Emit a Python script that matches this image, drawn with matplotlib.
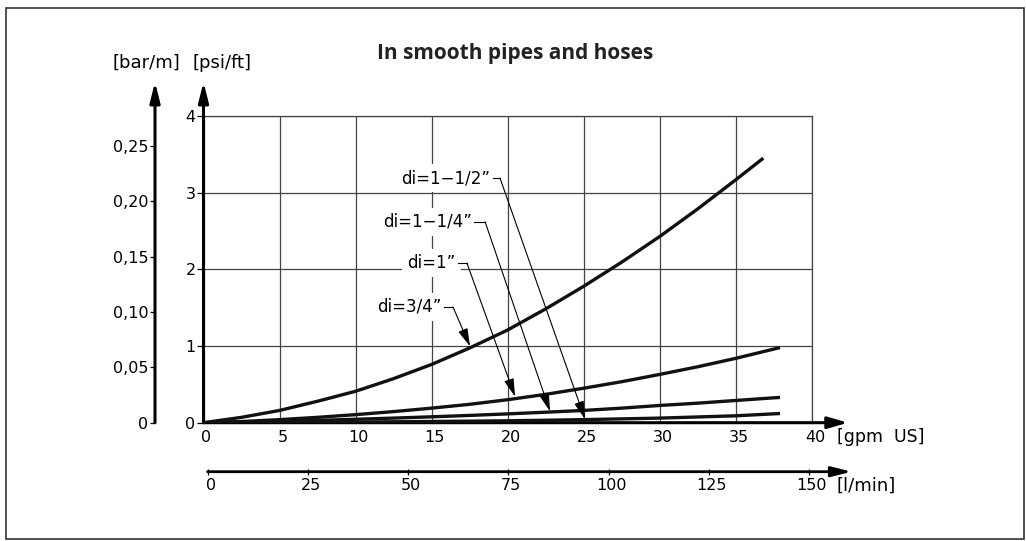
import matplotlib
matplotlib.use('Agg')
import matplotlib.pyplot as plt
from matplotlib.patches import Rectangle
from matplotlib.transforms import ScaledTranslation

# pressure drop per length vs flow
gpm = [0, 2.5, 5, 7.5, 10, 12.5, 15, 17.5, 20, 22.5, 25, 27.5, 30, 32.5, 35]
psi_34 = [0, 0.07, 0.16, 0.28, 0.41, 0.575, 0.76, 0.975, 1.21, 1.485, 1.78, 2.095, 2.43, 2.79, 3.17]
psi_1 = [0, 0.015, 0.04, 0.07, 0.105, 0.145, 0.19, 0.24, 0.30, 0.37, 0.45, 0.535, 0.63, 0.73, 0.84]
psi_114 = [0, 0.008, 0.018, 0.03, 0.045, 0.06, 0.077, 0.095, 0.115, 0.137, 0.16, 0.19, 0.225, 0.255, 0.29]
psi_112 = [0, 0.002, 0.004, 0.006, 0.009, 0.012, 0.016, 0.02, 0.025, 0.032, 0.04, 0.05, 0.06, 0.075, 0.09]
# last points of each curve
end_34 = (36.8, 3.45)
end_1 = (37.9, 0.98)
end_114 = (37.9, 0.33)
end_112 = (37.9, 0.12)

gpm_ticks = [0, 5, 10, 15, 20, 25, 30, 35, 40]
psi_ticks = [0, 1, 2, 3, 4]
lmin_ticks = [0, 25, 50, 75, 100, 125, 150]
bar_ticks = [0, 0.05, 0.10, 0.15, 0.20, 0.25]
bar_labels = ['0', '0,05', '0,10', '0,15', '0,20', '0,25']
curve_names = ['di=3/4”', 'di=1”', 'di=1−1/4”', 'di=1−1/2”']

W, H = 1026, 541
plt.rcParams['font.family'] = ['DejaVu Sans']

fig = plt.figure(figsize=(W / 100, H / 100), dpi=100)
fig.add_artist(Rectangle((6 / W, 1 - 539 / H), 1018 / W, 531 / H, transform=fig.transFigure,
                         fill=False, lw=1.2, ec='#333'))


def axis_arrow(a, end, lw=2.2, hl=1.2, hw=0.35):
    a.annotate('', xy=end, xytext=(0, 0), xycoords='axes fraction', textcoords='axes fraction',
               arrowprops=dict(arrowstyle='-|>,head_length=%g,head_width=%g' % (hl, hw),
                               lw=lw, color='k', shrinkA=0, shrinkB=0, mutation_scale=10),
               annotation_clip=False)


shift = ScaledTranslation(3 / 100, 0, fig.dpi_scale_trans)

# main chart
ax = fig.add_axes([203.5 / W, 1 - 422.7 / H, 608.5 / W, 306.7 / H])
ax.set_xlim(0, 40)
ax.set_ylim(0, 4)
ax.set_xticks(gpm_ticks)
ax.set_yticks(psi_ticks)
ax.grid(True, color='#444', lw=0.9)
ax.set_axisbelow(True)
for s in ['left', 'bottom']:
    ax.spines[s].set_visible(False)
for s in ['top', 'right']:
    ax.spines[s].set_color('#444')
    ax.spines[s].set_linewidth(0.9)
ax.tick_params(axis='x', length=0, pad=5.5, labelsize=11.5)
ax.tick_params(axis='y', length=4.7, width=0.9, pad=1, labelsize=11.5)
for lbl in ax.get_xticklabels():
    lbl.set_transform(lbl.get_transform() + shift)
axis_arrow(ax, (1.059, 0))
axis_arrow(ax, (0, 1.111), hw=0.3)

for ys, end in [(psi_34, end_34), (psi_1, end_1), (psi_114, end_114), (psi_112, end_112)]:
    xs = [x for x in gpm if x < end[0]] + [end[0]]
    ax.plot(xs, ys[:len(xs) - 1] + [end[1]], color='#111', lw=2.4, solid_capstyle='butt',
            solid_joinstyle='round', zorder=4)

# labels with leader lines: text right end, dash end, arrow tip
leaders = [(15.75, 1.51, 16.40, 17.52, 0.995),
           (16.67, 2.08, 17.32, 20.48, 0.34),
           (17.72, 2.62, 18.51, 22.78, 0.147),
           (18.97, 3.19, 19.49, 25.08, 0.045)]
for name, (xr, yt, xc, xa, ya) in zip(curve_names, leaders):
    ax.text(xr - 0.1, yt, name, ha='right', va='center', fontsize=12, zorder=3,
            bbox=dict(boxstyle='square,pad=0.3', fc='white', ec='none'))
    ax.plot([xr + 0.05, xc], [yt, yt], color='k', lw=0.8, zorder=5)
    ax.annotate('', xy=(xa, ya), xytext=(xc, yt),
                arrowprops=dict(arrowstyle='-|>,head_length=1.1,head_width=0.3', lw=0.8,
                                color='k', shrinkA=0, shrinkB=0, mutation_scale=10),
                zorder=5)

# second y scale in bar/m
axb = fig.add_axes([155 / W, 1 - 422.7 / H, 0.001, 306.7 / H])
axb.patch.set_visible(False)
axb.set_ylim(0, 0.2771)
axb.set_yticks(bar_ticks)
axb.set_yticklabels(bar_labels)
axb.set_xticks([])
for s in axb.spines.values():
    s.set_visible(False)
axb.tick_params(axis='y', length=3.6, width=0.9, pad=1, labelsize=11.5)
axis_arrow(axb, (0, 1.111), hw=0.3)

# second x scale in l/min
axl = fig.add_axes([207.6 / W, 1 - 471.7 / H, 601.4 / W, 0.001])
axl.patch.set_visible(False)
axl.set_xlim(0, 150)
axl.set_xticks(lmin_ticks)
axl.set_yticks([])
for s in axl.spines.values():
    s.set_visible(False)
axl.tick_params(axis='x', direction='inout', length=4.5, width=0.9, pad=2.3, labelsize=11.5)
for lbl in axl.get_xticklabels():
    lbl.set_transform(lbl.get_transform() + shift)
axis_arrow(axl, (1.071, 0), lw=2.0, hw=0.3)

fig.text(112 / W, 1 - 63 / H, '[bar/m]', va='center', fontsize=13)
fig.text(193 / W, 1 - 63 / H, '[psi/ft]', va='center', fontsize=13)
fig.text(837 / W, 1 - 437 / H, '[gpm  US]', va='center', fontsize=12.5)
fig.text(837 / W, 1 - 486 / H, '[l/min]', va='center', fontsize=13)
fig.text(515 / W, 1 - 54 / H, 'In smooth pipes and hoses', ha='center', va='center',
         fontsize=15, fontweight='bold', family='Open Sans', color='#222')

fig.savefig('out.png', dpi=100)
